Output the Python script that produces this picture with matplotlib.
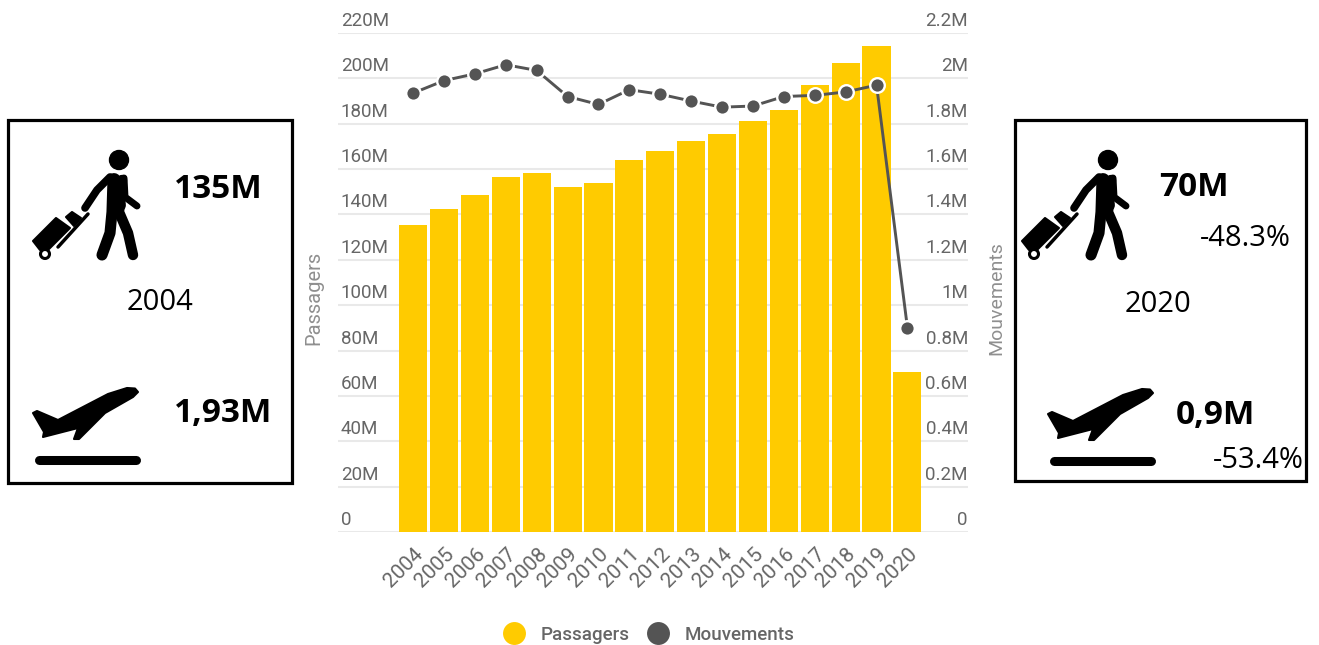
import matplotlib
matplotlib.use("Agg")
import matplotlib.pyplot as plt
from matplotlib.lines import Line2D
from matplotlib.patches import Circle, Polygon, Rectangle
from matplotlib.transforms import ScaledTranslation

# data
years = [2004, 2005, 2006, 2007, 2008, 2009, 2010, 2011, 2012, 2013, 2014, 2015, 2016, 2017, 2018, 2019, 2020]
passagers = [135.4, 142.4, 148.6, 156.5, 158.3, 152, 153.9, 164, 168, 172.4, 175.5, 181, 186, 197, 206.8, 214.3, 70.5]
mouvements = [1.935, 1.99, 2.02, 2.06, 2.035, 1.92, 1.885, 1.95, 1.93, 1.90, 1.873, 1.878, 1.92, 1.925, 1.94, 1.97, 0.9]
left_ticks = [0, 20, 40, 60, 80, 100, 120, 140, 160, 180, 200, 220]
left_labels = ["0", "20M", "40M", "60M", "80M", "100M", "120M", "140M", "160M", "180M", "200M", "220M"]
right_ticks = [0, 0.2, 0.4, 0.6, 0.8, 1, 1.2, 1.4, 1.6, 1.8, 2, 2.2]
right_labels = ["0", "0.2M", "0.4M", "0.6M", "0.8M", "1M", "1.2M", "1.4M", "1.6M", "1.8M", "2M", "2.2M"]

YELLOW = "#ffcb00"
DARK = "#545454"
TICK = "#666666"
W, H = 1319, 645

fig = plt.figure(figsize=(W / 100, H / 100), dpi=100)
ax = fig.add_axes([338 / W, 1 - 532 / H, 630 / W, 499 / H])

# bars + left axis
ax.bar(range(len(years)), passagers, width=0.91, color=YELLOW, zorder=2)
ax.set_xlim(-2.43, 17.96)
ax.set_ylim(0, 220)
ax.set_xticks(range(len(years)), [str(y) for y in years])
ax.grid(axis="y", color="#e9e9e9", lw=1.5, zorder=0)
ax.set_axisbelow(True)
for s in ax.spines.values():
    s.set_visible(False)
ax.tick_params(axis="x", length=0, pad=14)
for lab in ax.get_xticklabels():
    lab.set(rotation=45, ha="right", va="center", rotation_mode="anchor",
            family="Roboto", size=15, color=TICK)
    lab.set_transform(lab.get_transform() + ScaledTranslation(7 / 100, 0, fig.dpi_scale_trans))

ax.tick_params(axis="y", length=0, pad=-2, direction="in")
ax.set_yticks(left_ticks, left_labels)
for lab in ax.get_yticklabels():
    lab.set(ha="left", va="center", family="Roboto", size=13.5, color=TICK)
    lab.set_transform(lab.get_transform() + ScaledTranslation(0, 12 / 100, fig.dpi_scale_trans))

# line + right axis
ax2 = ax.twinx()
ax2.plot(range(len(years)), mouvements, color=DARK, lw=2.1, marker="o", ms=10.5,
         mfc=DARK, mec="white", mew=1.7, zorder=5)
ax2.set_ylim(0, 2.2)
for s in ax2.spines.values():
    s.set_visible(False)
ax2.tick_params(axis="y", length=0, pad=0, direction="out")
ax2.set_yticks(right_ticks, right_labels)
for lab in ax2.get_yticklabels():
    lab.set(ha="right", va="center", family="Roboto", size=13.5, color=TICK)
    lab.set_transform(lab.get_transform() + ScaledTranslation(0, 12 / 100, fig.dpi_scale_trans))

fig.text(314 / W, 1 - 298 / H, "Passagers", rotation=90, ha="center", va="center",
         family="Roboto", size=14.5, color="#8f8f8f")
fig.text(996 / W, 1 - 298 / H, "Mouvements", rotation=90, ha="center", va="center",
         family="Roboto", size=14, color="#8f8f8f")

# legend
handles = [Line2D([], [], ls="", marker="o", ms=16.5, mfc=YELLOW, mec="none", label="Passagers"),
           Line2D([], [], ls="", marker="o", ms=16.5, mfc=DARK, mec="none", label="Mouvements")]
fig.legend(handles=handles, ncols=2, loc="center", bbox_to_anchor=(645 / W, 1 - 635 / H), frameon=False,
           prop={"family": "Roboto", "size": 13.5, "weight": "medium"}, labelcolor=TICK,
           handletextpad=0.4, columnspacing=0.53, borderpad=0)

# overlay in pixel coordinates for the two boxes
ov = fig.add_axes([0, 0, 1, 1], zorder=10)
ov.set_xlim(0, W)
ov.set_ylim(H, 0)
ov.axis("off")
ov.patch.set_alpha(0)


def person(dx, dy=0):
    ov.add_patch(Circle((119 + dx, 160 + dy), 9.5, color="black"))
    strokes = [([113, 112, 110, 102], [180, 212, 233, 255], 8),
               ([122, 119, 128, 133], [180, 212, 233, 255], 7.5),
               ([124, 125, 137], [178, 197, 206], 5),
               ([110, 97, 85], [177, 190, 208], 5.5),
               ([88, 58], [214, 247], 2.5)]
    for xs, ys, lw in strokes:
        ov.plot([x + dx for x in xs], [y + dy for y in ys], color="black", lw=lw,
                solid_capstyle="round", solid_joinstyle="round")
    ov.plot([114 + dx, 119 + dx], [180 + dy, 205 + dy], color="black", lw=10, solid_capstyle="round")
    case = [(33, 241), (56, 218), (70, 228), (48, 250), (40, 250)]
    ov.add_patch(Polygon([(x + dx, y + dy) for x, y in case], closed=True, fc="black", ec="black",
                         lw=1.5, joinstyle="round"))
    grip = [(66, 217), (72, 212), (81, 218), (74, 226)]
    ov.add_patch(Polygon([(x + dx, y + dy) for x, y in grip], closed=True, fc="black", ec="black",
                         lw=1.5, joinstyle="round"))
    ov.add_patch(Circle((45 + dx, 254 + dy), 4.5, fc="white", ec="black", lw=2.2))


def plane(dx, dy=0):
    body = [(138, 392), (135, 388.5), (127, 388), (108, 394), (58, 420), (37, 411), (33, 413), (44, 432),
            (43, 437), (78, 428), (74, 439), (79, 439), (105, 413), (133, 397)]
    ov.add_patch(Polygon([(x + dx, y + dy) for x, y in body], closed=True, fc="black", ec="black",
                         lw=1.5, joinstyle="round"))
    ov.plot([39 + dx, 136 + dx], [460 + dy, 460 + dy], color="black", lw=6.5, solid_capstyle="round")


ov.add_patch(Rectangle((8, 120), 284, 363, fc="none", ec="black", lw=2.3))
ov.add_patch(Rectangle((1015, 120), 291, 361, fc="none", ec="black", lw=2.3))
person(0)
plane(0)
person(989)
plane(1015, 1)

BIG = dict(family="Open Sans", size=24, weight="bold", color="black", va="center", ha="left")
SMALL = dict(family="Open Sans", size=21, color="black", va="center", ha="left")
ov.text(174, 189, "135M", **BIG)
ov.text(174, 413, "1,93M", **BIG)
ov.text(127, 303, "2004", **SMALL)
ov.text(1159, 188, "70M", **BIG)
ov.text(1176, 416, "0,9M", **BIG)
ov.text(1125, 305, "2020", **SMALL)
ov.text(1200, 238, "-48.3%", **SMALL)
ov.text(1213, 460, "-53.4%", **SMALL)

fig.savefig("out.png", dpi=100)
